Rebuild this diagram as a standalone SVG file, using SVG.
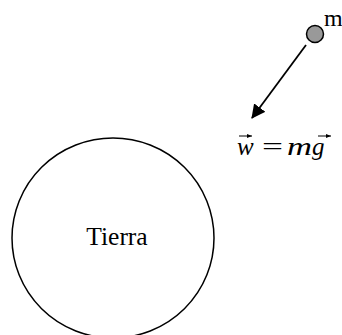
<svg xmlns="http://www.w3.org/2000/svg" width="342" height="335" viewBox="0 0 342 335">
<style>
.serif{font-family:"Liberation Serif","Times New Roman",serif;fill:#000}
.it{font-style:italic}
.vec{stroke:#000;stroke-width:1;fill:none}
</style>
<defs>
<marker id="ah" markerWidth="14" markerHeight="14" refX="13" refY="7" orient="auto" markerUnits="userSpaceOnUse">
<path d="M0,0 L14,7 L0,14 Z" fill="#000"/>
</marker>
<marker id="sah" markerWidth="5" markerHeight="4" refX="5" refY="2" orient="auto" markerUnits="userSpaceOnUse">
<path d="M0,0 L5,2 L0,4 Z" fill="#000"/>
</marker>
</defs>
<rect width="342" height="335" fill="#fff"/>
<g id="tierra">
<ellipse cx="113" cy="238" rx="101" ry="100" fill="none" stroke="#000" stroke-width="1.5"/>
<text class="serif" x="117" y="245" font-size="25.5" text-anchor="middle">Tierra</text>
</g>
<g id="masa">
<circle cx="315" cy="34" r="8.5" fill="#999" stroke="#000" stroke-width="1.5"/>
<text class="serif" x="324" y="26" font-size="24">m</text>
</g>
<g id="connectors">
<line x1="306" y1="45" x2="252" y2="118" stroke="#000" stroke-width="1.8" marker-end="url(#ah)"/>
</g>
<g id="formula">
<text class="serif it" x="237" y="155" font-size="25">w</text>
<text class="serif" x="262" y="155" font-size="25" textLength="21" lengthAdjust="spacingAndGlyphs">=</text>
<text class="serif it" x="287" y="155" font-size="25" textLength="25" lengthAdjust="spacingAndGlyphs">m</text>
<text class="serif it" x="312" y="155" font-size="25">g</text>
<line class="vec" x1="239" y1="136" x2="252" y2="136" marker-end="url(#sah)"/>
<line class="vec" x1="318" y1="136" x2="331" y2="136" marker-end="url(#sah)"/>
</g>
</svg>
